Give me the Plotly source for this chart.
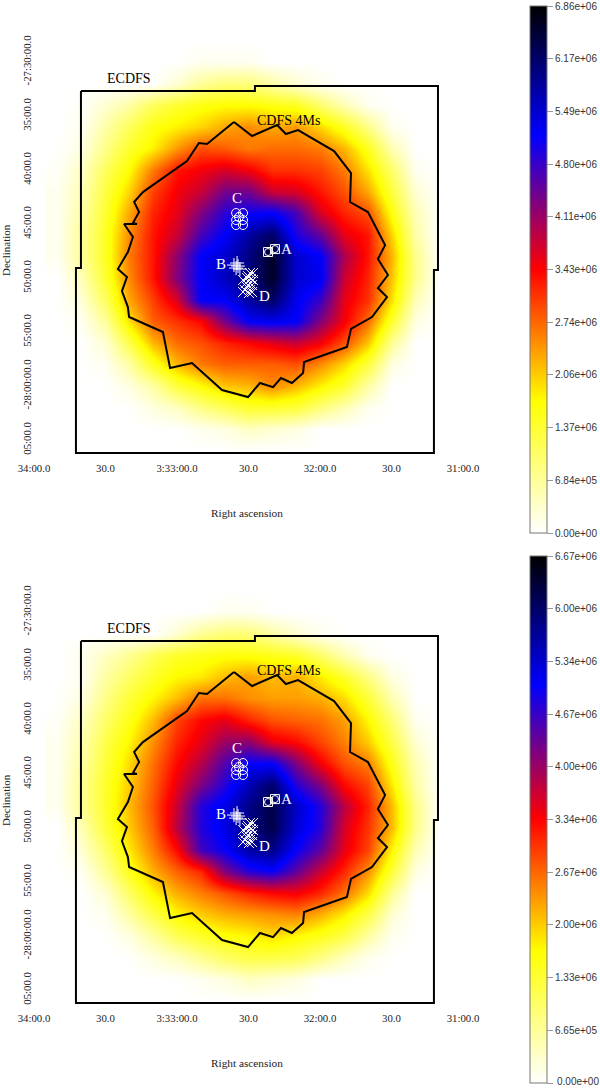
import numpy as np
import plotly.graph_objects as go

# RA in seconds after 3:31:00, Dec in arcmin below -27 deg
ra_grid = [170, 160, 150, 140, 130, 120, 110, 100, 90, 80, 70, 60, 50, 40, 30, 20, 10]
dec_grid = [28, 30, 32, 34, 36, 38, 40, 42, 44, 46, 48, 50, 52, 54, 56, 58, 60, 62, 64, 66]

# exposure maps, units of 1e5
exposure_top = [
    [0, 0, 0, 0, 0, 0, 0, 0, 0, 0, 0, 0, 0, 0, 0, 0, 0],
    [0, 0, 0, 0, 0, 0, 1, 1, 1, 0, 0, 0, 0, 0, 0, 0, 0],
    [0, 0, 0, 0, 0, 3, 7, 9, 9, 6, 3, 1, 0, 0, 0, 0, 0],
    [0, 0.5, 3, 6, 11, 14, 16, 17, 17, 16, 15, 10, 5, 1, 0, 0, 0],
    [0, 1, 6, 11, 16, 18, 20, 23, 25, 23, 24, 20, 15, 8, 1, 0, 0],
    [0, 2, 8, 14, 18, 24, 29, 28, 26, 27, 27, 26, 22, 15, 5, 0, 0],
    [0.5, 4, 11, 17, 26, 33, 35, 37, 35, 31, 31, 30, 26, 19, 10, 1, 0],
    [1, 5, 13, 20, 30, 35, 38, 44, 44, 38, 37, 33, 29, 23, 13, 3, 0],
    [1, 6, 14, 23, 32, 36, 43, 49, 51, 52, 47, 37, 32, 29, 16, 5, 0],
    [1, 7, 15, 25, 33, 38, 47, 52, 58, 62, 50, 45, 36, 33, 20, 6, 0],
    [1, 7, 15, 26, 33, 42, 52, 55, 60, 66, 55, 52, 40, 33, 22, 8, 0],
    [0, 5, 14, 25, 33, 43, 52, 56, 60, 66, 55, 53, 38, 32, 21, 8, 0],
    [0, 3, 11, 23, 30, 37, 52, 52, 58, 62, 53, 48, 36, 31, 19, 5, 0],
    [0, 1, 7, 19, 28, 31, 34, 44, 52, 53, 52, 43, 35, 27, 14, 2, 0],
    [0, 0, 3, 12, 22, 27, 29, 32, 34, 36, 38, 35, 29, 21, 7, 0, 0],
    [0, 0, 1, 6, 15, 22, 26, 28, 28, 28, 29, 25, 20, 13, 2, 0, 0],
    [0, 0, 0, 2, 6, 13, 17, 21, 22, 25, 22, 18, 14, 6, 0, 0, 0],
    [0, 0, 0, 0, 2, 4, 8, 11, 14, 14, 13, 9, 5, 1, 0, 0, 0],
    [0, 0, 0, 0, 0, 0, 1, 2, 4, 3, 2, 0, 0, 0, 0, 0, 0],
    [0, 0, 0, 0, 0, 0, 0, 0, 0, 0, 0, 0, 0, 0, 0, 0, 0],
]
exposure_bottom = [
    [0, 0, 0, 0, 0, 0, 0, 0, 0, 0, 0, 0, 0, 0, 0, 0, 0],
    [0, 0, 0, 0, 0, 0, 0, 1, 1, 0, 0, 0, 0, 0, 0, 0, 0],
    [0, 0, 0, 0, 0, 3, 7, 9, 9, 6, 3, 1, 0, 0, 0, 0, 0],
    [0, 1, 4, 7, 11, 14, 15, 16, 16, 15, 14, 10, 5, 1, 0, 0, 0],
    [0, 1, 6, 10, 14, 17, 18, 21, 23, 21, 22, 18, 14, 8, 2, 0, 0],
    [0, 2, 8, 13, 17, 21, 26, 26, 24, 23, 23, 22, 19, 13, 5, 0, 0],
    [0.5, 4, 10, 15, 21, 29, 33, 35, 31, 28, 27, 26, 23, 17, 9, 1, 0],
    [1, 5, 12, 17, 24, 31, 35, 40, 41, 35, 33, 29, 25, 20, 12, 3, 0],
    [1, 6, 13, 19, 26, 33, 38, 45, 50, 50, 42, 34, 28, 25, 15, 5, 0],
    [1, 7, 14, 20, 27, 35, 42, 48, 55, 60, 48, 42, 33, 29, 18, 6, 0],
    [1, 7, 14, 21, 28, 37, 48, 52, 58, 62, 54, 48, 38, 31, 21, 8, 0],
    [0, 5, 13, 20, 27, 38, 48, 52, 58, 62, 53, 48, 36, 30, 21, 8, 0],
    [0, 3, 10, 18, 25, 33, 46, 50, 56, 58, 50, 44, 35, 29, 17, 5, 0],
    [0, 1, 7, 15, 22, 27, 31, 42, 48, 50, 44, 37, 31, 24, 13, 2, 0],
    [0, 0, 3, 10, 17, 22, 25, 28, 31, 33, 34, 31, 26, 19, 7, 0, 0],
    [0, 0, 1, 6, 12, 17, 20, 22, 23, 24, 25, 22, 18, 12, 3, 0, 0],
    [0, 0, 0, 2, 6, 11, 14, 16, 17, 19, 17, 15, 12, 6, 1, 0, 0],
    [0, 0, 0, 0, 2, 4, 7, 10, 12, 12, 11, 8, 4, 1, 0, 0, 0],
    [0, 0, 0, 0, 0, 0, 1, 2, 4, 3, 2, 0, 0, 0, 0, 0, 0],
    [0, 0, 0, 0, 0, 0, 0, 0, 0, 0, 0, 0, 0, 0, 0, 0, 0],
]

# field outlines
ecdfs_ra = [160.3, 87.3, 87.3, 10.5, 10.5, 12.2, 12.2, 162.4, 162.4, 160.3, 160.3]
ecdfs_dec = [32.69, 32.69, 32.22, 32.22, 49.26, 49.26, 66.2, 66.2, 49.07, 49.07, 32.69]
cdfs_ra = [96.1, 88.5, 78.0, 74.3, 69.2, 54.1, 47.0, 47.4, 39.9, 32.7, 35.7, 31.5, 35.7, 31.9, 38.2,
           47.0, 48.7, 66.7, 67.1, 71.8, 76.4, 79.7, 85.2, 90.2, 101.1, 113.7, 122.9, 125.9, 140.1,
           140.6, 143.1, 141.0, 144.8, 140.6, 138.5, 142.2, 136.8, 138.5, 135.9, 138.0, 134.3, 115.8,
           110.8, 107.4, 96.1]
cdfs_dec = [35.56, 36.85, 35.83, 36.67, 36.30, 38.24, 40.28, 42.96, 43.89, 46.95, 48.24, 49.72, 50.93,
            51.76, 53.61, 54.72, 56.39, 57.78, 58.80, 59.72, 59.26, 60.10, 59.72, 61.02, 60.37, 57.87,
            58.34, 55.0, 53.61, 52.69, 51.21, 49.91, 49.17, 47.59, 46.2, 45.0, 45.0, 44.91, 43.89, 42.96,
            42.04, 39.17, 37.5, 37.59, 35.56]

# source positions
a_ra = [81.8, 78.9]
a_dec = [47.59, 47.32]
b_ra = [96.1, 94.8, 94.4, 95.2, 93.6]
b_dec = [48.8, 48.61, 48.89, 49.08, 49.17]
c_ra = [95.2, 92.3, 94.0, 95.2, 92.3, 95.2, 92.3]
c_dec = [43.98, 43.98, 44.35, 44.63, 44.63, 45.09, 45.09]
d_ra = [89.4, 90.6, 92.3, 89.4, 90.6, 88.1, 91.5, 89.4, 88.1, 89.8, 92.3, 88.5, 91.1, 88.5, 90.2, 89.0]
d_dec = [49.54, 50.0, 50.19, 50.46, 50.84, 50.19, 51.11, 51.11, 49.54, 51.39, 51.3, 51.3, 50.46, 50.65, 49.82, 50.09]

ra_ticks = [180, 150, 120, 90, 60, 30, 0]
ra_labels = ["34:00.0", "30.0", "3:33:00.0", "30.0", "32:00.0", "30.0", "31:00.0"]
dec_ticks = [30, 35, 40, 45, 50, 55, 60, 65]
dec_labels = ["-27:30:00.0", "35:00.0", "40:00.0", "45:00.0", "50:00.0", "55:00.0", "-28:00:00.0", "05:00.0"]

cbar_top = ["0.00e+00", "6.84e+05", "1.37e+06", "2.06e+06", "2.74e+06", "3.43e+06", "4.11e+06", "4.80e+06",
            "5.49e+06", "6.17e+06", "6.86e+06"]
cbar_bottom = ["0.00e+00", "6.65e+05", "1.33e+06", "2.00e+06", "2.67e+06", "3.34e+06", "4.00e+06", "4.67e+06",
               "5.34e+06", "6.00e+06", "6.67e+06"]

colors = [[0, "#ffffff"], [0.25, "#ffff00"], [0.5, "#ff0000"], [0.755, "#0000ff"], [1, "#000000"]]
W, H = 600, 1088
SERIF = "Liberation Serif"

fig = go.Figure()
panels = [("", exposure_top, 6.86e6, cbar_top, 0), ("2", exposure_bottom, 6.67e6, cbar_bottom, 550)]

for suffix, z, zmax, cbar, off in panels:
    xa, ya = "x" + suffix, "y" + suffix
    tick_vals = [zmax * i / 10 for i in range(11)]
    fig.add_trace(go.Heatmap(
        x=ra_grid, y=dec_grid, z=np.array(z) * 1e5, zmin=0, zmax=zmax, zsmooth="best", xaxis=xa, yaxis=ya,
        colorscale=colors,
        colorbar=dict(x=530 / W, xanchor="left", y=1 - (6 + off) / H, yanchor="top", len=527 / H,
                      thickness=17, xpad=0, ypad=0, outlinewidth=1, outlinecolor="#777777",
                      tickmode="array", tickvals=tick_vals, ticktext=cbar, ticks="outside", ticklen=6,
                      tickcolor="#999999", tickfont=dict(family="Liberation Sans", size=10, color="#333333")),
    ))
    fig.add_trace(go.Scatter(x=ecdfs_ra, y=ecdfs_dec, mode="lines", line=dict(color="black", width=2),
                             xaxis=xa, yaxis=ya, showlegend=False))
    fig.add_trace(go.Scatter(x=cdfs_ra, y=cdfs_dec, mode="lines", line=dict(color="black", width=2),
                             xaxis=xa, yaxis=ya, showlegend=False))
    for mx, my, sym, size in [(a_ra, a_dec, "square-open", 9), (a_ra, a_dec, "circle-open", 7),
                              (b_ra, b_dec, "cross-thin-open", 10), (c_ra, c_dec, "circle-open", 9),
                              (d_ra, d_dec, "x-thin-open", 10)]:
        fig.add_trace(go.Scatter(x=mx, y=my, mode="markers", xaxis=xa, yaxis=ya, showlegend=False,
                                 marker=dict(symbol=sym, size=size, color="white", line=dict(color="white", width=1))))

    fig.update_layout({
        "xaxis" + suffix: dict(domain=[34 / W, 480 / W], range=[180, -7.13], anchor=ya, tickmode="array",
                               tickvals=ra_ticks, ticktext=ra_labels, showgrid=False, zeroline=False,
                               tickfont=dict(family=SERIF, size=10.8, color="#222222"), ticks=""),
        "yaxis" + suffix: dict(domain=[1 - (460 + off) / H, 1 - (40 + off) / H], range=[66.85, 27.96], anchor=xa,
                               tickmode="array", tickvals=dec_ticks, ticktext=dec_labels, tickangle=-90,
                               showgrid=False, zeroline=False,
                               tickfont=dict(family=SERIF, size=10.8, color="#222222"), ticks=""),
    })

    for label, tx, ty, color, size in [("ECDFS", 140.1, 31.57, "black", 14), ("CDFS 4Ms", 73.4, 35.37, "black", 14),
                                       ("A", 73.9, 47.32, "white", 15), ("B", 101.5, 48.7, "white", 15),
                                       ("C", 94.8, 42.59, "white", 15), ("D", 83.5, 51.67, "white", 15)]:
        fig.add_annotation(x=tx, y=ty, xref=xa, yref=ya, text=label, showarrow=False,
                           font=dict(family=SERIF, size=size, color=color))
    fig.add_annotation(x=247 / W, y=1 - (513 + off) / H, xref="paper", yref="paper", text="Right ascension",
                       xanchor="center", yanchor="middle", showarrow=False,
                       font=dict(family=SERIF, size=11.3, color="#222222"))
    fig.add_annotation(x=6 / W, y=1 - (250 + off) / H, xref="paper", yref="paper", text="Declination", textangle=-90,
                       xanchor="center", yanchor="middle", showarrow=False,
                       font=dict(family=SERIF, size=11, color="#222222"))

# plotly drops the lowest colorbar label this close to the page edge
fig.add_annotation(x=555 / W, y=1 - 1081 / H, xref="paper", yref="paper", text=cbar_bottom[0], showarrow=False,
                   xanchor="left", yanchor="middle", font=dict(family="Liberation Sans", size=10, color="#333333"))

fig.update_layout(width=W, height=H, margin=dict(l=0, r=0, t=0, b=0, autoexpand=False), paper_bgcolor="white",
                  plot_bgcolor="white", showlegend=False)

# page margin would push the figure out of the window
fig.write_html("out.html", config={"displayModeBar": False}, post_script="document.body.style.margin='0';")
